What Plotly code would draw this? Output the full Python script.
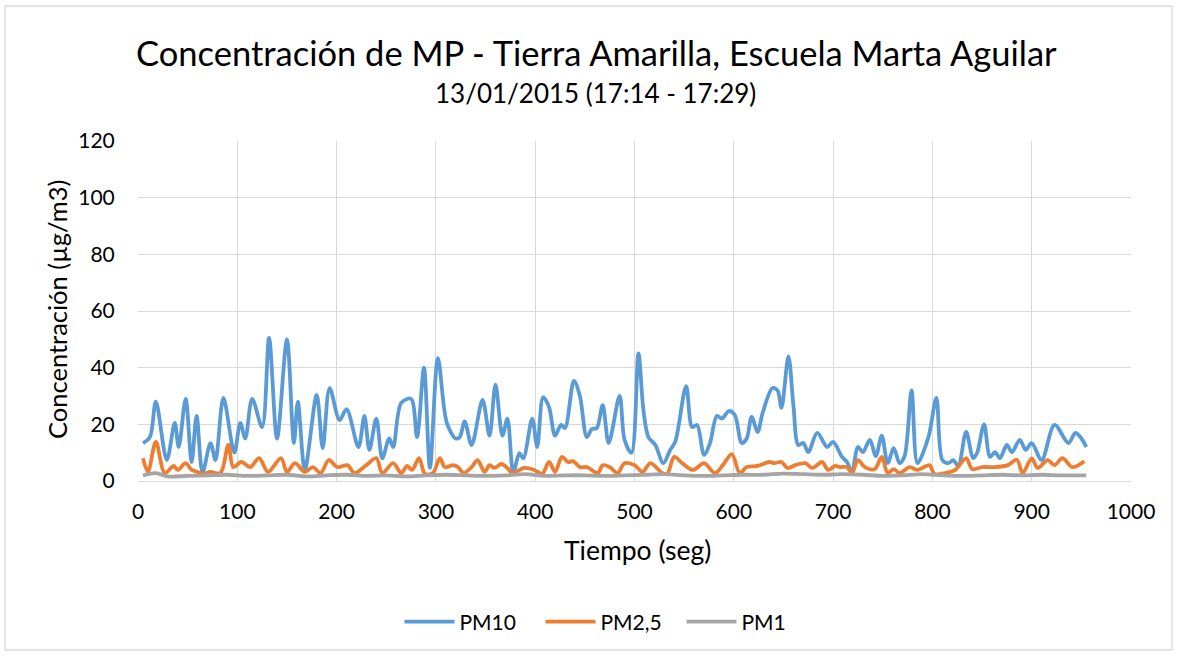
import plotly.graph_objects as go

# ---- data ----
pm10_t = [5, 12, 18, 29, 37, 41, 48, 54, 59, 65, 73, 78, 86, 97, 103, 108, 115, 125, 132, 140,
          150, 157, 161, 168, 180, 186, 193, 203, 210, 222, 228, 233, 240, 246, 253, 257, 265, 275,
          281, 288, 294, 302, 311, 320, 324, 329, 336, 347, 354, 360, 367, 372, 378, 384, 388, 397,
          402, 408, 414, 420, 426, 430, 439, 445, 452, 457, 462, 468, 474, 485, 490, 497, 504, 509,
          514, 521, 529, 536, 541, 552, 558, 563, 570, 576, 583, 588, 595, 601, 608, 613, 618, 624,
          629, 639, 644, 648, 655, 660, 665, 670, 675, 684, 694, 700, 709, 714, 719, 725, 730, 737,
          743, 749, 755, 761, 767, 772, 779, 785, 796, 804, 810, 816, 821, 826, 834, 841, 845, 852,
          858, 863, 868, 875, 880, 888, 894, 900, 910, 923, 937, 944, 949, 955]
pm10_v = [13.4, 15.5, 28, 7.4, 20.5, 12, 29, 6.7, 23, 3, 13.4, 7.4, 29.3, 10, 20.5, 15, 29, 19, 50.5, 15,
          50, 13.4, 28, 4, 30.4, 11.6, 32.8, 21.5, 25.4, 12, 23, 11, 22, 8, 15, 12, 27.5, 29,
          15.5, 40, 4.6, 43.4, 20.5, 15, 15.5, 21, 12.7, 28.6, 16, 34, 16, 22, 3, 9.8, 8, 22,
          12, 29.6, 26, 16, 19.8, 18.7, 35.3, 30, 15.5, 18.3, 18.7, 26.8, 13.4, 30, 14.5, 9.9, 45, 25,
          15.5, 12.7, 6.3, 11, 13.8, 33.5, 19, 19.8, 9.2, 13.4, 23, 22, 24.7, 23.3, 13.4, 15, 22.6, 17.3,
          24, 32.8, 32, 25.8, 44, 26.8, 12.7, 13.4, 10.2, 17, 12, 13.8, 8.5, 6.7, 3.2, 12, 10.2, 14.5,
          8.8, 16, 6.3, 11.6, 6.3, 8.8, 32, 6.3, 15.5, 29.3, 7.4, 6.3, 7.4, 5.3, 17.3, 8.1, 9.9, 20,
          8.5, 10.2, 8.1, 12.7, 10.2, 14.5, 11, 13.4, 7.4, 19.8, 13.4, 17, 15.5, 12]

pm25_t = [5, 10, 18, 27, 36, 40, 48, 54, 60, 65, 73, 83, 91, 96, 104, 113, 122, 131, 144, 150,
          158, 168, 176, 184, 192, 201, 211, 218, 230, 240, 246, 257, 265, 271, 276, 283, 289, 297,
          304, 309, 317, 322, 328, 336, 342, 349, 354, 359, 366, 372, 377, 389, 399, 407, 414, 420,
          427, 433, 438, 445, 452, 463, 468, 475, 483, 490, 500, 508, 516, 528, 533, 540, 548, 559,
          570, 581, 589, 598, 606, 613, 624, 636, 641, 648, 654, 662, 672, 679, 689, 695, 702, 707,
          714, 719, 725, 732, 742, 749, 755, 761, 767, 777, 785, 797, 802, 813, 823, 834, 840, 850,
          863, 876, 885, 891, 900, 906, 916, 923, 931, 941, 953]
pm25_v = [8, 3.2, 13.8, 2.8, 5.3, 3.9, 6.3, 3.9, 3.2, 2.5, 3.2, 2.8, 12.7, 4.9, 6.7, 4.9, 8.1, 3.2, 8.1, 3.2,
          6.3, 3.2, 4.9, 2.8, 7.4, 4.9, 5.6, 2.8, 5.6, 8.1, 2.8, 6.3, 2.8, 5.3, 3.9, 8.1, 2.5, 2.8,
          8.1, 4.9, 5.6, 5, 2.8, 4.9, 7.4, 3.2, 5.6, 4.6, 6, 4.6, 2.8, 4.6, 3.9, 2.5, 6.7, 3.2,
          8.5, 6.7, 7, 4.9, 4.9, 2.8, 5.6, 4.9, 2.8, 6.3, 5.6, 3.2, 6.3, 2.8, 2.5, 8.5, 6.3, 3.9,
          6.3, 2.8, 5.6, 9.5, 2.8, 4.9, 5.3, 6.7, 6.3, 6.7, 4.6, 5.6, 6.3, 4.6, 6.7, 3.9, 5.3, 4.9,
          4.9, 2.8, 7.4, 4.9, 4.2, 8.5, 2.8, 4.2, 2.8, 4.9, 3.9, 5.6, 2.5, 2.8, 3.9, 8.1, 4.2, 4.9,
          4.9, 5.6, 7.5, 2.8, 8, 4.6, 7.4, 5.6, 8.1, 4.9, 7]

pm1_t = [5, 18, 30, 50, 70, 90, 110, 130, 150, 170, 190, 210, 230, 250, 270, 290, 310, 330, 350, 370,
         390, 410, 430, 450, 470, 490, 510, 530, 550, 570, 590, 610, 630, 650, 670, 690, 710, 730,
         750, 770, 790, 810, 830, 850, 870, 890, 910, 930, 955]
pm1_v = [2, 2.8, 1.6, 1.8, 2, 2.2, 1.8, 2, 2.2, 1.6, 2, 2.2, 1.8, 2, 1.6, 2, 2.2, 2, 1.8, 2,
         2.4, 1.8, 2, 2, 1.8, 2, 2.2, 2.4, 2, 1.8, 2, 2.2, 2.2, 2.6, 2.4, 2.2, 2.4, 2.2,
         1.8, 2, 2.4, 2, 1.8, 2, 2.2, 2, 2.2, 2, 2]

series_names = ["PM10", "PM2,5", "PM1"]
series_colors = ["#5B9BD5", "#ED7D31", "#A5A5A5"]

x_ticks = list(range(0, 1001, 100))
y_ticks = list(range(0, 121, 20))

title_text = "Concentración de MP - Tierra Amarilla, Escuela Marta Aguilar"
subtitle_text = "13/01/2015 (17:14 - 17:29)"
x_title = "Tiempo (seg)"
y_title = "Concentración (µg/m3)"

FONT = "Lato"

fig = go.Figure()
for t, v, name, col in zip([pm10_t, pm25_t, pm1_t], [pm10_v, pm25_v, pm1_v], series_names, series_colors):
    fig.add_trace(go.Scatter(x=t, y=v, mode="lines", name=name,
                             line=dict(color=col, width=3.8, shape="spline", smoothing=0.9)))

W, H = 1179, 656
L, R, T, B = 138, 48, 141, 175
pw, ph = W - L - R, H - T - B

def px(xp):
    return (xp - L) / pw

def py(yp):
    return (H - B - yp) / ph

fig.update_layout(
    width=W, height=H,
    margin=dict(l=L, r=R, t=T, b=B),
    paper_bgcolor="white", plot_bgcolor="white",
    font=dict(family=FONT, color="#000000", size=21),
    showlegend=True,
    legend=dict(orientation="h", x=px(611), xanchor="center", y=py(622), yanchor="middle",
                font=dict(size=21, family=FONT, color="#000000"), itemwidth=50,
                entrywidth=76, entrywidthmode="pixels",
                traceorder="normal"),
    xaxis=dict(range=[0, 1000], tickvals=x_ticks, showgrid=True, gridcolor="#d9d9d9", gridwidth=1.3,
               zeroline=False, showline=True, linecolor="#d9d9d9", linewidth=1.3,
               ticks="outside", ticklen=12, tickcolor="rgba(0,0,0,0)",
               tickfont=dict(size=21, family=FONT, color="#000000")),
    yaxis=dict(range=[0, 120], tickvals=y_ticks, showgrid=True, gridcolor="#d9d9d9", gridwidth=1.3,
               zeroline=False, showline=False,
               ticks="outside", ticklen=18, tickcolor="rgba(0,0,0,0)",
               tickfont=dict(size=21, family=FONT, color="#000000")),
    annotations=[
        dict(text=title_text, x=px(596), y=py(52), xref="paper", yref="paper",
             xanchor="center", yanchor="middle", showarrow=False,
             font=dict(size=34.5, family=FONT, color="#000000")),
        dict(text=subtitle_text, x=px(595), y=py(93), xref="paper", yref="paper",
             xanchor="center", yanchor="middle", showarrow=False,
             font=dict(size=26, family=FONT, color="#000000")),
        dict(text=x_title, x=px(637), y=py(550), xref="paper", yref="paper",
             xanchor="center", yanchor="middle", showarrow=False,
             font=dict(size=26.5, family=FONT, color="#000000")),
        dict(text=y_title, x=px(57), y=py(310), xref="paper", yref="paper",
             xanchor="center", yanchor="middle", showarrow=False, textangle=-90,
             font=dict(size=25.5, family=FONT, color="#000000")),
    ],
    shapes=[dict(type="rect", xref="paper", yref="paper",
                 x0=px(5), x1=px(1172), y0=py(650), y1=py(6),
                 line=dict(color="#d9d9d9", width=1.3), fillcolor="rgba(0,0,0,0)", layer="below")],
)

fig.write_html("out.html", config={"displayModeBar": False},
               post_script="document.body.style.margin='0';")
